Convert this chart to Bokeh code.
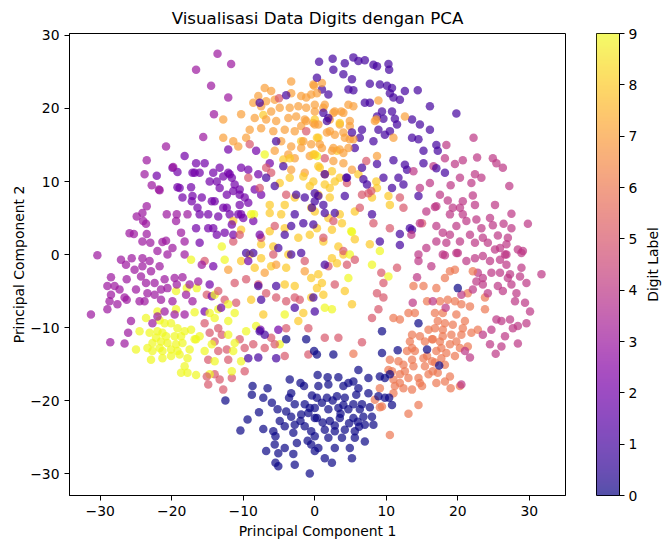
"""
PCA scatter of the digits data, coloured by digit label (plasma), with a colour bar.
"""
import math
from itertools import zip_longest

import numpy as np
from bokeh.plotting import figure
from bokeh.layouts import row
from bokeh.models import (ColumnDataSource, LinearColorMapper, FixedTicker, Range1d, Label,
                          LinearAxis)
from bokeh.transform import linear_cmap
from bokeh.palettes import Plasma256
from bokeh.embed import file_html
from bokeh.resources import INLINE

# (PC1, PC2) points, one list per digit label
digit0 = [(-3.5, -17.1), (-6.6, -18.3), (-8.7, -18.0), (-8.8, -19.2), (-7.2, -19.6), (-12.5, -20.0),
          (-3.3, -19.0), (-1.5, -18.0), (-0.4, -19.3), (-3.6, -19.6), (-2.8, -20.5), (-1.4, -20.5),
          (-0.7, -21.0), (-4.0, -21.5), (-4.9, -22.8), (-3.3, -22.2), (-1.9, -21.9), (-0.9, -21.7),
          (0.0, -22.4), (-5.2, -21.2), (-10.4, -24.1), (-7.2, -23.9), (-5.8, -24.2), (-4.2, -23.5),
          (-3.0, -24.4), (-2.8, -23.3), (-1.4, -23.5), (-0.5, -24.2), (-5.5, -24.9), (-5.6, -26.0),
          (-4.2, -26.5), (-6.8, -26.9), (-5.1, -27.2), (-0.5, -26.0), (0.0, -26.9), (-5.5, -28.5),
          (-5.1, -29.0), (-2.8, -28.8), (-0.7, -30.0), (0.4, -16.5), (1.8, -16.8), (3.3, -16.8),
          (4.7, -17.6), (6.1, -15.8), (7.5, -16.9), (9.1, -16.7), (0.5, -18.0), (1.9, -17.8),
          (4.0, -18.0), (5.4, -17.4), (6.1, -18.3), (7.5, -19.0), (8.9, -19.4), (0.3, -19.6),
          (1.7, -19.6), (3.1, -19.4), (4.2, -19.6), (5.4, -20.5), (6.6, -20.5), (7.7, -20.9),
          (9.8, -19.6), (10.8, -20.6), (0.0, -21.0), (1.9, -21.2), (3.3, -21.0), (4.7, -21.2),
          (6.3, -21.2), (0.3, -22.4), (2.1, -22.8), (3.5, -22.4), (5.4, -22.4), (6.8, -22.2),
          (8.0, -22.2), (1.4, -24.0), (2.8, -24.2), (4.2, -24.0), (5.6, -24.2), (7.0, -23.3),
          (8.2, -23.3), (0.0, -24.9), (1.9, -25.1), (3.8, -25.1), (5.6, -25.1), (7.0, -25.6),
          (0.5, -26.5), (2.8, -26.5), (4.9, -26.5), (1.4, -27.9), (5.2, -27.9), (2.4, -28.5),
          (9.4, -10.5), (9.4, -13.5), (11.6, -13.1), (14.5, -9.4), (2.6, -13.7), (0.3, -13.7),
          (10.4, -19.6), (9.8, -16.9), (15.7, -13.0), (20.0, -4.6), (17.4, -15.2), (10.5, -16.4),
          (-1.2, -11.6), (-4.0, -11.6), (-0.1, -13.2), (1.0, -20.3), (2.5, -20.0), (4.0, -20.6),
          (5.8, -19.2), (2.8, -23.4), (4.8, -23.1), (6.2, -23.6), (1.1, -23.0), (3.6, -21.8),
          (6.0, -22.9), (-2.0, -22.8), (-1.0, -25.5), (-2.5, -25.8), (-2.0, -17.6), (-6.0, -20.3),
          (-7.8, -21.6), (-9.4, -22.6), (-3.0, -27.3)]

digit1 = [(0.6, 26.4), (2.5, 26.8), (4.2, 26.2), (5.4, 27.0), (6.1, 26.5), (7.0, 26.6), (8.2, 26.0),
          (8.7, 25.8), (10.3, 26.1), (10.4, 25.3), (2.6, 25.3), (4.0, 24.7), (5.2, 24.0), (4.7, 22.6),
          (5.4, 22.5), (7.7, 23.4), (9.1, 23.3), (10.1, 23.1), (10.8, 22.8), (10.5, 22.1), (11.0, 21.5),
          (11.9, 21.2), (12.6, 22.4), (14.4, 22.5), (1.9, 21.9), (1.0, 22.6), (7.0, 20.8), (7.7, 20.8),
          (9.4, 19.6), (10.8, 19.6), (8.7, 18.9), (9.6, 18.6), (11.2, 18.6), (11.5, 17.8), (10.5, 16.9),
          (8.9, 17.1), (9.8, 16.4), (6.6, 17.1), (6.3, 16.0), (8.2, 15.5), (13.6, 18.5), (14.7, 17.8),
          (16.1, 20.3), (16.1, 17.1), (13.6, 16.0), (14.5, 15.8), (15.2, 14.2), (11.0, 12.9),
          (12.6, 12.3), (12.9, 11.6), (15.2, 12.5), (11.7, 10.5), (12.4, 9.6), (10.8, 9.1), (6.8, 10.3),
          (9.6, 10.5), (8.7, 12.4), (5.6, 14.6), (4.5, 10.5), (4.2, 8.0), (1.4, 5.7), (11.9, 2.8),
          (13.6, 3.4), (11.9, 1.3), (9.1, 1.8), (-0.4, 6.4), (0.5, 8.0), (19.8, 19.3), (17.0, 15.0),
          (17.2, 14.2), (18.2, 11.2), (17.0, 11.8), (13.3, 3.6), (14.5, 8.0), (-7.7, -10.5),
          (-7.0, -11.0), (-5.4, -14.2), (-7.9, -14.1), (-7.5, -6.2), (-2.8, -7.3), (-5.4, -4.3),
          (-7.9, -4.3), (-9.6, 0.2), (-3.3, 0.0), (-1.9, 0.2), (-5.6, 9.4), (-2.6, 8.2), (-1.4, 7.8),
          (-2.8, 5.5), (-1.6, 4.3), (-4.2, 2.7), (-3.3, 3.9), (-5.1, 0.9), (-8.6, 0.2), (-4.4, 12.1),
          (-5.4, 15.5), (-4.0, 21.8), (-7.7, 20.8), (-6.8, 10.5), (5.2, 16.7), (1.2, 19.4), (1.7, 18.3),
          (6.6, 11.9), (1.2, 6.8), (0.0, 8.4), (8.0, 5.5), (1.9, 18.7), (0.3, 24.2), (7.3, 9.6),
          (1.4, -1.4), (-0.2, -5.9), (0.0, -7.8), (1.4, 11.0), (0.0, 7.3), (2.8, 5.7), (-0.2, 4.1),
          (4.4, 10.5), (-9.3, -14.2)]

digit2 = [(-15.4, 12.5), (-16.1, 11.2), (-14.7, 10.0), (-14.2, 11.2), (-13.3, 11.9), (-12.8, 10.7),
          (-12.1, 11.2), (-11.6, 10.5), (-11.2, 9.6), (-13.3, 9.1), (-12.3, 8.2), (-11.4, 8.7),
          (-10.5, 8.9), (-9.8, 7.8), (-10.5, 6.8), (-9.3, 7.1), (-12.8, 6.4), (-14.0, 7.3),
          (-15.8, 7.8), (-14.9, 5.5), (-13.5, 5.2), (-11.9, 5.5), (-10.7, 5.5), (-10.0, 5.0),
          (-11.6, 4.1), (-14.9, 3.6), (-13.7, 2.7), (-12.6, 3.0), (-16.1, 1.6), (-8.4, 8.9),
          (-7.5, 8.2), (-7.9, 11.0), (-9.3, 11.6), (-10.3, 11.9), (-12.1, 14.4), (-8.2, 14.2),
          (-6.3, 12.5), (-16.8, 11.2), (-18.2, 13.5), (-19.9, 11.9), (-19.2, 11.3), (-17.1, 11.2),
          (-16.6, 12.5), (-19.2, 9.2), (-17.3, 9.2), (-18.5, 7.8), (-17.1, 8.0), (-16.4, 6.4),
          (-16.6, 3.6), (-22.1, 10.8), (-9.3, -0.9), (-14.4, -5.7), (-15.4, -7.8), (-7.6, -10.3),
          (-5.1, -10.3), (-13.7, 10.0), (-11.9, 11.0), (-10.5, 8.2), (-14.4, 7.3), (-12.3, 6.4),
          (-10.3, 5.5), (-16.1, 5.5), (-14.2, 3.6), (-11.4, 2.7), (-8.6, 4.6), (-7.7, 2.7),
          (-18.9, 9.1), (-17.2, 7.3), (-14.2, -1.6), (-14.7, -4.1), (-13.1, -7.3)]

digit3 = [(-16.6, 25.3), (-20.8, 14.8), (-23.5, 12.9), (-23.8, 11.0), (-22.8, 9.5), (-21.7, 8.8),
          (-23.5, 6.6), (-24.9, 5.2), (-24.1, 5.7), (-20.7, 5.5), (-17.8, 5.5), (-23.6, 4.2),
          (-25.3, 2.8), (-23.5, 2.8), (-24.1, 1.8), (-23.0, 1.6), (-21.3, 1.7), (-20.8, 1.9),
          (-19.4, 4.6), (-18.7, 3.0), (-18.2, 1.8), (-30.4, -0.1), (-27.1, -0.7), (-25.6, -0.5),
          (-22.0, 0.5), (-20.6, 0.0), (-19.9, 0.9), (-18.2, 0.0), (-13.6, 27.5), (-11.7, 26.1),
          (-14.5, 23.1), (-12.1, 21.5), (-14.1, 19.2), (-15.6, 16.1), (-24.1, -0.5), (-23.1, -0.9),
          (-26.4, -1.4), (-25.2, -2.1), (-24.3, -3.0), (-28.5, -3.1), (-26.3, -3.4), (-29.0, -4.3),
          (-28.0, -4.3), (-27.3, -4.8), (-25.0, -4.8), (-23.6, -3.9), (-22.4, -3.9), (-21.0, -3.4),
          (-19.6, -3.2), (-18.5, -3.1), (-28.5, -5.5), (-26.6, -5.9), (-23.4, -5.3), (-21.5, -4.8),
          (-20.6, -4.6), (-19.3, -4.1), (-17.5, -4.1), (-28.7, -6.4), (-26.3, -6.2), (-24.5, -6.4),
          (-21.5, -6.2), (-19.9, -6.4), (-18.0, -5.5), (-17.1, -6.4), (-29.0, -7.5), (-31.3, -8.2),
          (-25.7, -9.1), (-26.1, -10.7), (-28.6, -12.0), (-26.6, -12.2), (-22.7, -9.4), (-22.0, -8.5),
          (-19.6, -8.2), (-18.2, -8.2), (-21.0, -7.8), (-25.9, 2.9), (-24.0, 4.6), (-21.8, 8.9),
          (-19.8, 12.0), (-19.3, 5.5), (-15.8, -1.4), (-16.3, -3.7), (-22.9, -2.3), (-21.7, -1.6),
          (-22.4, -5.5), (-23.8, -6.4), (-27.6, -6.8), (-24.1, -1.6)]

digit4 = [(22.2, 16.0), (18.4, 15.0), (18.2, 13.2), (20.7, 12.9), (22.7, 13.3), (24.9, 13.2),
          (25.4, 12.5), (26.3, 11.9), (19.6, 12.4), (16.6, 12.1), (20.3, 10.5), (22.4, 11.0),
          (23.3, 10.5), (21.9, 9.8), (19.0, 9.5), (27.2, 9.4), (17.5, 8.2), (22.1, 8.1), (18.6, 7.4),
          (20.7, 7.3), (22.4, 6.8), (25.2, 6.8), (27.5, 5.6), (29.8, 4.2), (19.3, 6.4), (20.3, 6.4),
          (16.8, 6.5), (21.2, 4.6), (22.6, 4.8), (24.5, 5.0), (24.9, 4.0), (26.4, 4.2), (17.0, 3.9),
          (17.9, 3.0), (18.9, 2.7), (19.8, 3.9), (21.7, 2.7), (23.5, 2.3), (25.6, 2.6), (27.0, 2.3),
          (17.0, 1.8), (18.4, 1.6), (20.3, 1.8), (22.4, 1.6), (24.2, 1.6), (26.8, 1.4), (28.4, 0.7),
          (29.1, 0.5), (17.9, 0.0), (19.8, 0.2), (22.4, -0.5), (25.2, 0.7), (26.6, 0.0), (18.2, -0.1),
          (20.0, 0.2), (21.2, -0.9), (23.5, -0.2), (24.5, -0.9), (25.9, -0.7), (26.8, 0.0), (28.9, 0.2),
          (28.9, -1.8), (31.7, -2.7), (22.8, -2.5), (23.5, -3.2), (24.7, -2.5), (25.9, -2.5),
          (27.3, -2.7), (28.7, -3.0), (29.6, -3.9), (22.6, -3.7), (23.5, -4.1), (25.6, -4.3),
          (27.5, -4.1), (28.2, -5.3), (28.0, -6.4), (29.4, -6.6), (30.1, -7.8), (20.5, -5.5),
          (22.1, -4.8), (25.4, -8.9), (26.1, -9.1), (27.3, -8.9), (28.4, -9.8), (29.6, -9.4),
          (24.7, -10.3), (26.6, -11.2), (23.5, -11.0), (24.5, -12.3), (26.1, -12.6), (28.4, -12.2),
          (25.3, -13.6), (21.0, -13.2), (21.7, -14.1), (20.5, -17.8), (16.5, -6.4), (18.3, -7.3),
          (13.8, 11.4), (16.1, 9.8), (14.7, 9.1), (15.6, 5.9), (17.0, 6.6), (14.7, 4.3), (13.5, 2.7),
          (14.5, 0.0), (15.6, 0.9), (14.5, -0.9), (16.3, -1.6), (14.3, -3.1), (13.7, -6.6),
          (20.7, 5.5), (23.3, 3.6), (25.9, 0.9), (27.5, 3.6), (18.9, 5.5), (27.0, -3.2), (26.8, -1.4),
          (26.3, -5.0), (24.2, -5.3), (27.7, -10.1)]

digit5 = [(-14.9, -17.8), (-12.8, -18.5), (-11.6, -16.9), (-9.8, -16.0), (-14.0, -16.4), (-14.9, -14.4),
          (-13.5, -13.2), (-12.3, -13.0), (-14.0, -11.9), (-13.0, -11.0), (-14.7, -10.7), (-13.5, -10.1),
          (-10.5, -11.6), (-8.6, -12.3), (-7.0, -12.8), (-6.1, -11.4), (-4.0, -10.1), (-0.9, -10.1),
          (-0.9, -13.7), (-4.2, -13.9), (-11.0, -6.6), (-12.6, -6.2), (-15.1, -5.5), (-9.6, -3.4),
          (-6.8, -5.3), (-5.4, -5.9), (-4.0, -6.4), (-2.1, -6.2), (-7.9, -4.1), (-5.8, 0.0),
          (-1.4, -0.9), (1.4, -11.4), (3.3, -11.4), (6.6, -12.0), (8.0, -8.7), (8.9, -7.5), (9.6, -5.9),
          (11.5, -1.8), (9.3, -2.5), (1.9, -1.6), (4.5, -1.4), (6.6, 8.2), (4.5, 9.8), (7.5, 8.4),
          (11.9, 7.8), (12.4, 6.4), (15.0, 4.3), (10.5, 3.6), (8.2, 4.3), (-9.3, 10.5), (-6.8, 11.9),
          (-6.1, 11.2), (-9.1, 15.1), (-7.5, 2.3), (-11.4, 1.8), (-5.6, 3.9), (-5.0, 21.4),
          (-15.4, -0.9), (-13.3, -17.1), (-15.1, -16.7), (-1.2, 16.9), (1.4, 13.2), (7.2, 12.8),
          (7.9, 8.7), (6.3, 6.4), (2.6, 4.6), (1.2, 2.3), (4.0, 0.5), (-7.7, 9.1), (-4.0, 8.2),
          (-10.5, 2.7), (-13.5, -5.0), (-15.4, -9.4), (-9.8, -12.8), (-12.1, -14.4), (-5.6, -12.3),
          (-11.2, -3.9), (-2.8, -5.9), (5.6, -0.7), (2.8, -4.1), (9.6, -3.9), (8.7, -5.3)]

digit6 = [(13.8, -4.3), (15.2, -4.3), (15.7, -6.4), (13.1, -8.0), (11.0, -8.7), (11.9, -8.9),
          (14.0, -8.0), (13.6, -11.0), (14.7, -11.2), (15.9, -10.3), (13.3, -11.9), (12.9, -13.2),
          (14.0, -13.2), (15.4, -11.9), (16.4, -11.6), (13.6, -14.4), (15.2, -14.2), (12.4, -15.1),
          (13.8, -15.3), (15.4, -15.3), (16.4, -14.6), (10.8, -16.0), (11.9, -16.4), (13.1, -16.9),
          (14.5, -16.9), (15.9, -16.4), (11.2, -18.0), (12.4, -18.3), (13.6, -18.5), (15.0, -18.0),
          (8.4, -19.9), (9.4, -20.8), (11.0, -19.0), (9.1, -18.3), (14.5, -20.6), (13.1, -21.8),
          (10.5, -24.7), (5.4, -13.6), (10.5, -14.4), (10.3, -15.8), (11.9, -17.6), (18.9, -2.3),
          (19.6, -2.1), (18.2, -3.2), (17.0, -4.6), (21.4, -5.3), (20.5, -6.8), (21.7, -7.1),
          (17.5, -6.4), (18.6, -6.2), (19.6, -6.4), (16.8, -8.0), (17.9, -8.0), (19.8, -8.2),
          (21.0, -9.1), (23.8, -7.5), (22.8, -10.3), (16.8, -10.1), (17.9, -10.3), (19.1, -11.0),
          (20.5, -11.0), (21.9, -10.7), (17.5, -11.9), (18.9, -12.3), (20.3, -12.8), (21.4, -12.6),
          (17.0, -13.2), (18.4, -13.5), (19.6, -13.9), (16.8, -14.8), (18.2, -15.1), (17.2, -16.2),
          (18.9, -16.7), (17.0, -17.6), (19.0, -18.3), (20.3, -18.0), (22.1, -2.3), (23.8, -5.9),
          (16.5, -11.6), (18.2, -9.4), (9.1, -20.9), (17.2, -9.1), (19.3, -9.6), (20.7, -10.1),
          (17.9, -11.2), (19.8, -11.9), (17.7, -12.8), (17.7, -14.2), (16.5, -16.0), (18.2, -17.4),
          (13.6, -12.8), (12.6, -16.0), (11.7, -14.6), (15.7, -13.9), (14.7, -17.6), (11.0, -17.1)]

digit7 = [(-7.0, 22.8), (-6.1, 22.4), (-7.9, 21.7), (-6.8, 21.0), (-5.6, 21.2), (-3.3, 22.1),
          (-1.9, 21.7), (-0.5, 21.9), (-3.3, 23.7), (-7.5, 20.3), (-6.1, 19.6), (-4.9, 20.1),
          (-3.5, 20.1), (-2.3, 20.3), (-1.2, 20.1), (0.0, 19.6), (-8.4, 18.7), (-6.8, 18.5),
          (-5.4, 18.3), (-3.7, 18.7), (-2.6, 18.9), (-1.4, 18.5), (-0.2, 18.0), (-9.1, 17.1),
          (-7.5, 17.3), (-5.8, 16.9), (-4.2, 17.1), (-2.8, 16.9), (-1.9, 17.6), (-4.7, 15.5),
          (-3.3, 14.8), (-1.9, 14.6), (-0.5, 15.1), (-5.6, 14.2), (-3.7, 13.7), (-2.8, 13.2),
          (-0.7, 13.5), (-10.3, 19.2), (-12.8, 18.5), (-12.8, 16.0), (-11.4, 15.5), (-10.7, 14.8),
          (-9.6, 16.0), (-3.3, 11.6), (-1.4, 11.2), (-0.2, 23.3), (1.0, 23.5), (0.3, 22.1), (1.4, 20.5),
          (2.8, 19.6), (4.0, 19.4), (4.7, 20.5), (5.4, 20.3), (2.1, 18.5), (3.5, 17.8), (4.9, 17.6),
          (1.7, 16.7), (2.8, 16.4), (4.2, 16.0), (5.4, 15.8), (1.0, 14.6), (2.4, 14.2), (3.5, 14.4),
          (4.7, 14.6), (0.5, 17.8), (8.9, 21.1), (8.4, 18.3), (11.0, 16.0), (2.6, 12.8), (4.0, 12.5),
          (5.2, 11.6), (1.4, 11.0), (8.7, 13.5), (-0.1, 23.1), (12.6, 18.9), (8.6, 18.5), (-8.6, 20.8),
          (-12.1, -2.1), (-7.0, -2.5), (-5.4, -1.4), (-1.4, -2.3), (-1.2, 21.5), (0.0, 20.5),
          (1.2, 20.1), (2.6, 19.4), (3.7, 19.6), (4.9, 18.3), (-1.2, 18.3), (0.0, 17.8), (2.1, 16.9),
          (4.0, 16.7), (-1.6, 15.5), (0.7, 15.1), (2.6, 14.6), (4.0, 13.9), (4.9, 15.8)]

digit8 = [(-7.2, 19.1), (-1.9, 15.5), (-4.4, 13.0), (-4.9, 9.8), (-3.5, 10.5), (-0.7, 9.4), (-6.3, 6.8),
          (-4.2, 6.8), (-2.8, 7.8), (-6.3, 5.7), (-4.7, 5.5), (-0.5, 6.4), (-10.3, 3.4), (-6.3, 3.2),
          (-4.2, 3.6), (-2.3, 2.3), (-0.7, 2.7), (-7.5, 1.4), (-5.8, 1.1), (-3.7, 0.0), (-9.1, 0.0),
          (-11.4, 4.6), (0.0, 18.5), (0.3, 16.0), (3.1, 14.2), (0.5, 12.1), (2.4, 11.4), (-0.2, 10.0),
          (1.4, 9.6), (2.8, 10.0), (0.5, 8.2), (2.1, 7.8), (0.0, 5.9), (1.9, 5.0), (3.5, 5.5), (5.6, 5.9),
          (8.0, 7.8), (10.3, 8.0), (10.5, 6.8), (8.7, 9.1), (6.1, 11.0), (0.3, 3.6), (2.4, 3.4),
          (3.8, 4.3), (5.6, 2.1), (7.7, 1.4), (1.2, 1.8), (3.3, 1.1), (-10.3, -0.9), (-7.5, -0.5),
          (-6.1, -1.6), (-4.0, -1.8), (-8.9, -6.2), (-7.2, -8.2), (-1.6, -8.0), (-2.8, -4.3),
          (-0.5, -5.9), (-0.5, -3.2), (0.5, -2.7), (0.3, -4.6), (4.2, -5.0), (5.2, -6.8), (1.2, -5.5),
          (4.0, 0.0), (3.1, -1.2), (-2.3, -9.1), (0.5, 16.0), (0.0, 13.7), (3.5, 18.0), (-1.6, 10.7),
          (0.7, 11.9), (2.1, 9.1), (3.5, 10.5), (8.6, 10.0), (-3.5, 13.2), (-0.2, 13.7), (-4.2, -4.1),
          (-8.4, -1.8), (2.4, -0.5), (1.0, -3.9)]

digit9 = [(-23.6, -8.7), (-24.5, -10.5), (-25.0, -13.0), (-23.4, -12.8), (-22.7, -13.2), (-23.1, -10.7),
          (-22.0, -10.5), (-21.0, -9.4), (-21.3, -10.7), (-20.1, -9.4), (-19.2, -10.1), (-18.2, -10.5),
          (-17.3, -10.3), (-16.6, -11.6), (-22.7, -12.1), (-21.5, -11.9), (-20.6, -12.1), (-19.4, -12.3),
          (-18.5, -12.1), (-21.3, -13.2), (-20.1, -13.0), (-19.2, -13.2), (-22.9, -14.4), (-21.3, -14.2),
          (-20.1, -13.9), (-18.9, -13.7), (-17.8, -14.2), (-18.2, -15.3), (-18.7, -16.2), (-17.8, -16.2),
          (-16.6, -16.5), (-22.0, -7.8), (-19.4, -5.0), (-17.9, -4.6), (-17.3, -0.7), (-21.7, -9.0),
          (-19.4, -7.5), (-16.8, -7.9), (-16.8, -11.6), (-16.1, -11.2), (-15.4, -13.2), (-14.4, -12.3),
          (-12.1, -11.0), (-11.4, -13.2), (-11.6, -16.0), (-14.7, -16.4), (-11.2, -8.0), (-9.6, -10.5),
          (-10.3, -14.6), (-8.2, -9.8), (-4.9, -12.3), (-4.2, -8.2), (-16.5, -4.6), (-13.5, -7.5),
          (-14.0, -5.5), (-12.1, -6.8), (-12.6, -0.7), (-8.5, 5.5), (-7.0, 13.7), (-13.0, 1.1),
          (5.2, 3.1), (9.1, 0.5), (0.3, 13.5), (1.4, -7.3), (2.4, -7.5), (10.3, -3.0), (8.0, -1.4),
          (4.9, 0.0), (5.1, 3.2), (-8.9, 5.5), (-14.7, -8.0), (-12.1, -9.1), (-14.0, -8.7),
          (-11.2, -12.1), (-14.0, -14.6), (4.7, -3.2), (-20.8, -11.2), (-22.2, -11.4), (-19.6, -11.2),
          (-18.7, -11.2), (-21.7, -12.8), (-17.5, -13.0)]

digit_points = [digit0, digit1, digit2, digit3, digit4, digit5, digit6, digit7, digit8, digit9]

# matplotlib draws the samples in dataset order, where the labels cycle, so interleave them
xs, ys, labels = [], [], []
tagged = [[(label, pt) for pt in pts] for label, pts in enumerate(digit_points)]
for group in zip_longest(*tagged):
    for item in group:
        if item is None:
            continue
        label, (x, y) = item
        xs.append(x)
        ys.append(y)
        labels.append(label)

source = ColumnDataSource(data=dict(x=xs, y=ys, label=labels))

FONT = "DejaVu Sans"
TICK_SIZE = "13.9px"
ticks = [-30, -20, -10, 0, 10, 20, 30]
minus_labels = {t: str(t).replace("-", "\u2212") for t in ticks}

# side figures need the main plot's top (title) and bottom (x axis) borders
TOP, BOTTOM = 24, 44


def blank_axis(tick, length):
    """An axis that draws nothing visible; only its tick length reserves space."""
    return LinearAxis(ticker=FixedTicker(ticks=[tick]), major_label_overrides={tick: ""},
                      major_label_text_font_size="0px", major_label_standoff=0,
                      axis_line_color=None, minor_tick_line_color=None,
                      major_tick_line_color="white", major_tick_in=0, major_tick_out=length)


p = figure(title="Visualisasi Data Digits dengan PCA", frame_width=496, frame_height=462,
           x_range=Range1d(-34.3, 35.06), y_range=Range1d(-33.0, 30.27),
           min_border_right=31, output_backend="svg", toolbar_location=None)
p.scatter("x", "y", source=source, size=8.5, line_color=None, fill_alpha=0.7,
          fill_color=linear_cmap("label", Plasma256, 0, 9))

p.title.align = "center"
p.title.text_font = FONT
p.title.text_font_size = "16.7px"
p.title.text_font_style = "normal"
p.title.text_color = "black"
p.title.standoff = 11

p.xaxis.axis_label = "Principal Component 1"
p.yaxis.axis_label = "Principal Component 2"
for ax in (p.xaxis, p.yaxis):
    ax.ticker = FixedTicker(ticks=ticks)
    ax.major_label_overrides = minus_labels
    ax.minor_tick_line_color = None
    ax.major_tick_in = 0
    ax.major_tick_out = 5
    ax.major_label_standoff = 5
    ax.major_label_text_font = FONT
    ax.major_label_text_font_size = TICK_SIZE
    ax.major_label_text_color = "black"
    ax.axis_label_text_font = FONT
    ax.axis_label_text_font_size = TICK_SIZE
    ax.axis_label_text_font_style = "normal"
    ax.axis_label_text_color = "black"
    ax.axis_line_color = "black"
    ax.major_tick_line_color = "black"
p.xaxis.axis_label_standoff = 4
p.yaxis.axis_label_standoff = 0
p.add_layout(blank_axis(29, 8), "left")   # empty strip left of the y label
p.grid.visible = False
p.outline_line_color = "black"
p.outline_line_alpha = 1

# colour bar as its own narrow figure
cb = figure(frame_width=23, frame_height=462, x_range=Range1d(0, 1), y_range=Range1d(0, 9),
            y_axis_location="right", min_border_left=0, min_border_right=0,
            min_border_top=TOP, min_border_bottom=BOTTOM,
            output_backend="svg", toolbar_location=None)
ramp = np.linspace(0, 9, 256).reshape(-1, 1)
cb.image(image=[ramp], x=0, y=0, dw=1, dh=9, global_alpha=0.7,
         color_mapper=LinearColorMapper(palette=Plasma256, low=0, high=9))
cb.xaxis.visible = False
cb.grid.visible = False
cb.outline_line_color = "black"
cb.outline_line_alpha = 1
cb.yaxis.ticker = FixedTicker(ticks=list(range(10)))
cb.yaxis.minor_tick_line_color = None
cb.yaxis.major_tick_in = 0
cb.yaxis.major_tick_out = 5
cb.yaxis.major_label_standoff = 4
cb.yaxis.major_label_text_font = FONT
cb.yaxis.major_label_text_font_size = TICK_SIZE
cb.yaxis.major_label_text_color = "black"
cb.yaxis.axis_line_color = "black"

# colour bar title, rotated to read upwards, in a strip of its own
lab = figure(frame_width=24, frame_height=462, x_range=Range1d(0, 1), y_range=Range1d(0, 1),
             min_border_left=0, min_border_right=0, min_border_top=TOP, min_border_bottom=BOTTOM,
             output_backend="svg", toolbar_location=None)
lab.axis.visible = False
lab.grid.visible = False
lab.outline_line_color = None
lab.add_layout(Label(x=0.5, y=0.5, text="Digit Label", angle=math.pi / 2,
                     text_align="center", text_baseline="middle", text_font=FONT,
                     text_font_size=TICK_SIZE, text_color="black"))

layout = row(p, cb, lab)
open("out.html", "w").write(file_html(layout, INLINE))
